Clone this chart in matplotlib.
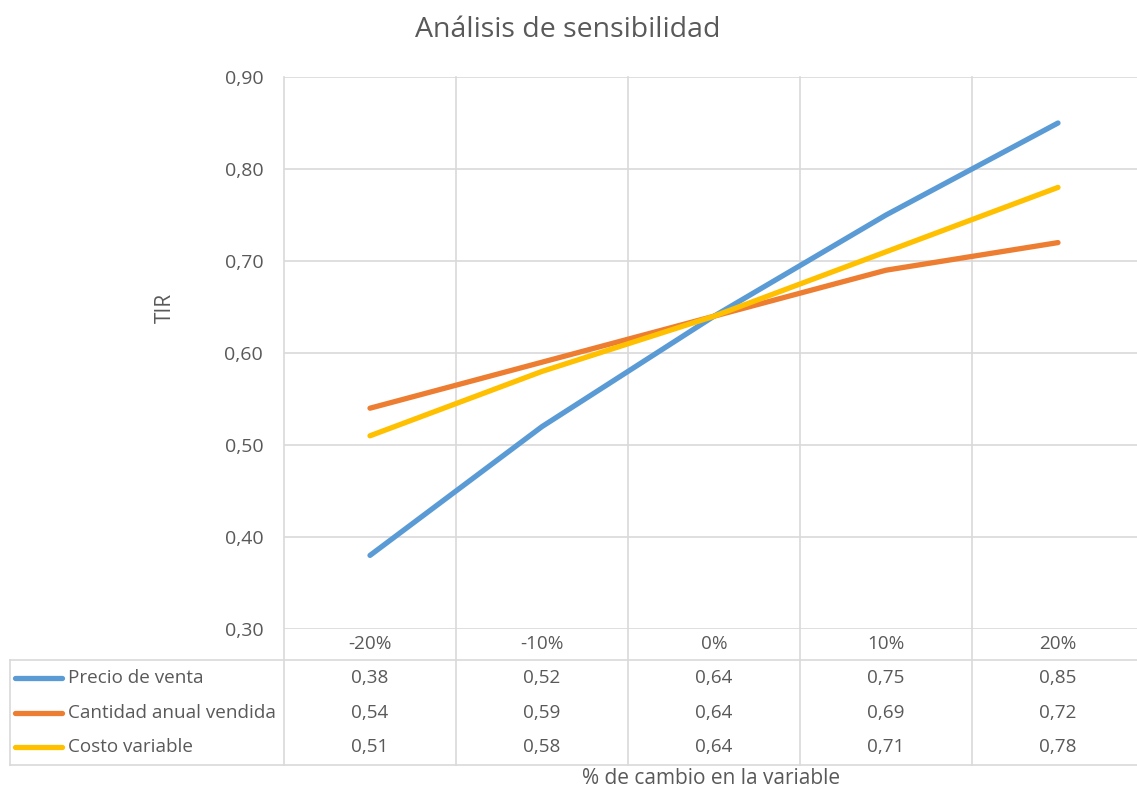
import numpy as np
import matplotlib.pyplot as plt

plt.rcParams['font.family'] = ['Open Sans', 'DejaVu Sans']

categorias = ['-20%', '-10%', '0%', '10%', '20%']
series = ['Precio de venta', 'Cantidad anual vendida', 'Costo variable']
precio = [0.38, 0.52, 0.64, 0.75, 0.85]
cantidad = [0.54, 0.59, 0.64, 0.69, 0.72]
costo = [0.51, 0.58, 0.64, 0.71, 0.78]
colores = ['#5B9BD5', '#ED7D31', '#FFC000']
valores = [precio, cantidad, costo]

W, H = 1137, 791
fig = plt.figure(figsize=(W / 100, H / 100), dpi=100)
x0, x1, ytop, ybot = 284, 1137, 77, 629
ax = fig.add_axes([x0 / W, 1 - ybot / H, (x1 - x0) / W, (ybot - ytop) / H])

txt = '#595959'
grid = '#D9D9D9'
fs = 14
fs_tab = 13.6
step = 172.0
xs = np.arange(len(categorias))
ax.set_xlim(-0.5, -0.5 + (x1 - x0) / step)
ax.set_ylim(0.30, 0.90)
yt = np.arange(0.30, 0.901, 0.10)
ax.set_yticks(yt)
ax.set_yticklabels([f'{v:.2f}'.replace('.', ',') for v in yt], color=txt, fontsize=fs)
ax.tick_params(axis='y', length=0, pad=15)
ax.set_xticks([])
for s in ax.spines.values():
    s.set_visible(False)
ax.grid(axis='y', color=grid, lw=1.2)
ax.set_axisbelow(True)

tr = ax.get_xaxis_transform()
def fy(py):
    return (ybot - py) / (ybot - ytop)

tbl_hdr, tbl_bot = fy(660), fy(765)
# vertical gridlines run through the data table
for b in np.arange(-0.5, 4.6, 1.0):
    ax.plot([b, b], [1, tbl_bot], color=grid, lw=1.2, transform=tr, clip_on=False, zorder=0)

for vals, c in zip(valores, colores):
    ax.plot(xs, vals, color=c, lw=3.8, solid_capstyle='round', zorder=3)

# table borders
fx = lambda px: (px - x0) / (x1 - x0)
ax.plot([fx(10), 1], [tbl_hdr, tbl_hdr], color=grid, lw=1.2, transform=ax.transAxes, clip_on=False)
ax.plot([fx(10), 1], [tbl_bot, tbl_bot], color=grid, lw=1.2, transform=ax.transAxes, clip_on=False)
ax.plot([fx(10), fx(10)], [tbl_hdr, tbl_bot], color=grid, lw=1.2, transform=ax.transAxes, clip_on=False)

for i, cat in enumerate(categorias):
    ax.text(i, fy(644), cat, transform=tr, ha='center', va='center', color=txt, fontsize=fs_tab)

rows_y = [678, 713, 747]
for r, (name, vals, c) in enumerate(zip(series, valores, colores)):
    yy = fy(rows_y[r])
    ax.plot([fx(15), fx(62)], [yy, yy], color=c, lw=3.8, solid_capstyle='round',
            transform=ax.transAxes, clip_on=False)
    ax.text(fx(68), yy, name, transform=ax.transAxes, ha='left', va='center', color=txt,
            fontsize=fs_tab)
    for i, v in enumerate(vals):
        ax.text(i, yy, f'{v:.2f}'.replace('.', ','), transform=tr, ha='center', va='center',
                color=txt, fontsize=fs_tab)

fig.text(568 / W, 1 - 30 / H, 'Análisis de sensibilidad', ha='center', va='center',
         color=txt, fontsize=20.5)
fig.text(165 / W, 1 - 308 / H, 'TIR', ha='center', va='center', rotation=90, color=txt, fontsize=15)
fig.text(711 / W, 1 - 778 / H, '% de cambio en la variable', ha='center', va='center',
         color=txt, fontsize=15)

fig.savefig('out.png', dpi=100, facecolor='white')
